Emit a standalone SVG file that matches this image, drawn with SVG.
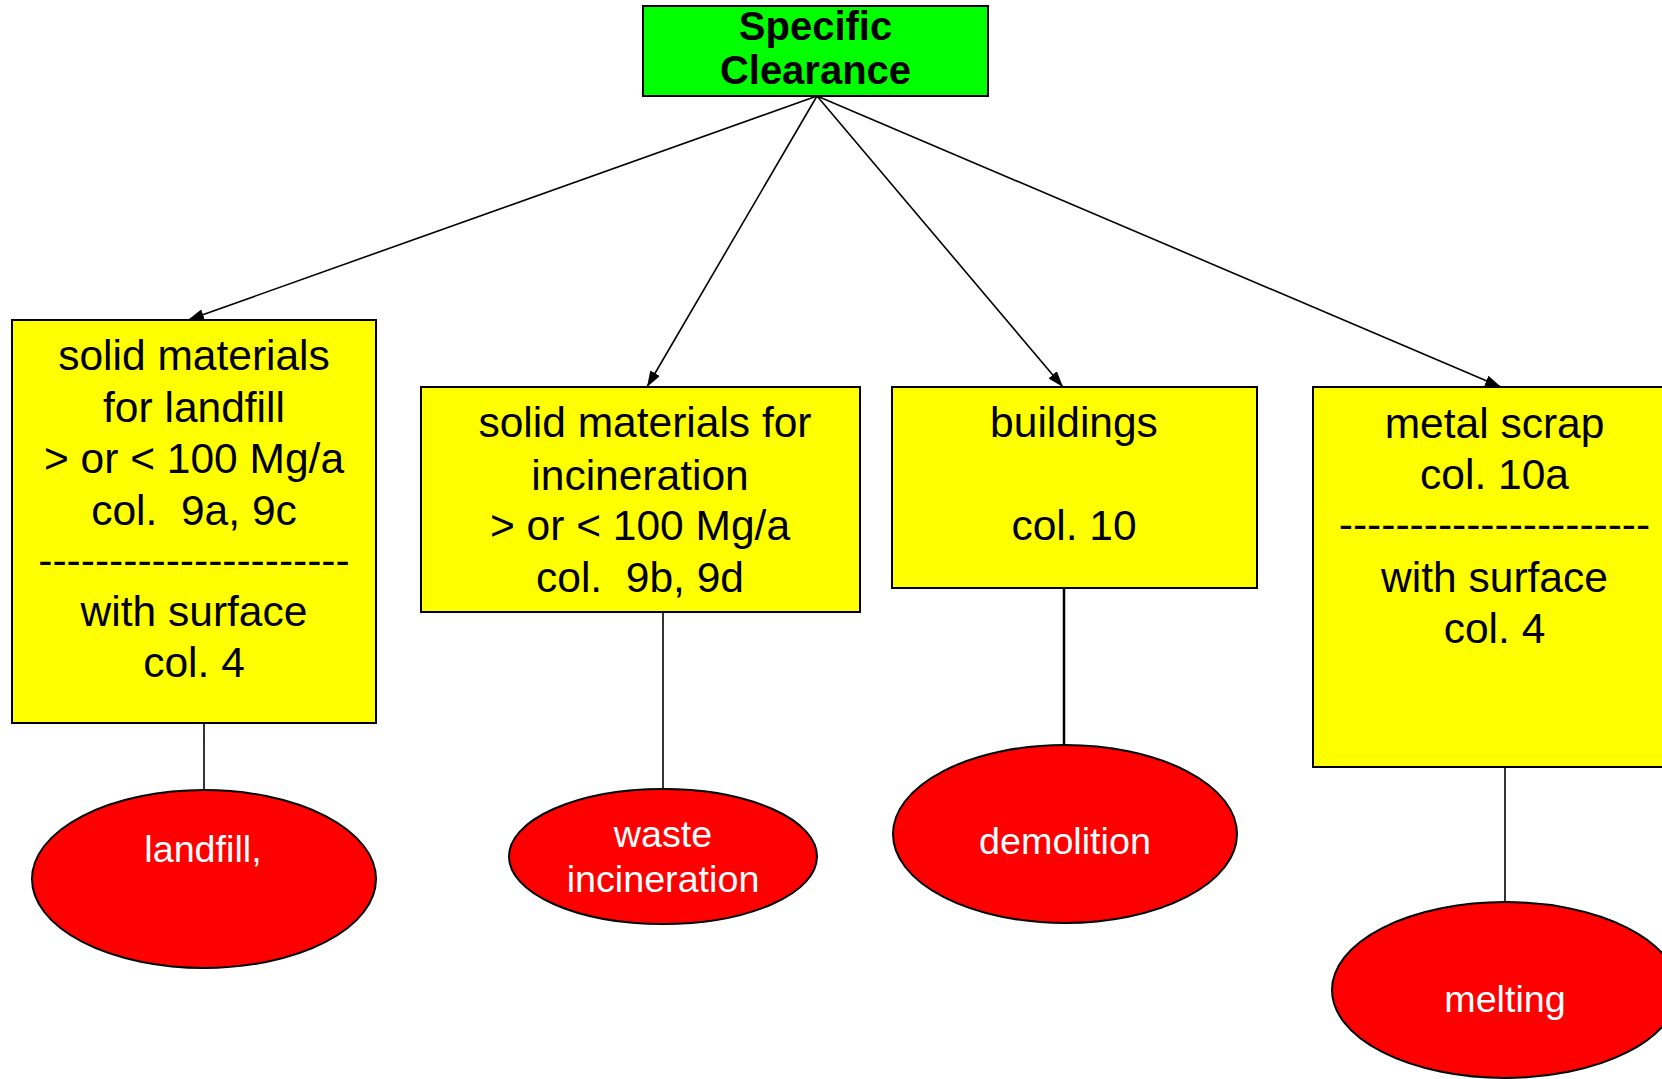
<svg xmlns="http://www.w3.org/2000/svg" width="1662" height="1079" viewBox="0 0 1662 1079">
  <defs>
    <marker id="arrow" viewBox="0 0 16 11" refX="16" refY="5.5" markerWidth="16" markerHeight="11" markerUnits="userSpaceOnUse" orient="auto">
      <path d="M0,0 L16,5.5 L0,11 z" fill="#000"/>
    </marker>
  </defs>
  <style>
    .box { fill: #ffff00; stroke: #000; stroke-width: 2; }
    .top { fill: #00ff00; stroke: #000; stroke-width: 2; }
    .oval { fill: #ff0000; stroke: #000; stroke-width: 2; }
    .t { font-family: "Liberation Sans", Arial, sans-serif; font-size: 42.5px; fill: #000; text-anchor: middle; }
    .tb { font-family: "Liberation Sans", Arial, sans-serif; font-size: 40px; font-weight: bold; fill: #000; text-anchor: middle; }
    .tw { font-family: "Liberation Sans", Arial, sans-serif; font-size: 37.7px; fill: #fff; text-anchor: middle; }
    .link { stroke: #000; stroke-width: 1.6; fill: none; }
  </style>

  <!-- connectors -->
  <g id="connectors">
    <line class="link" x1="817" y1="96" x2="188" y2="320" marker-end="url(#arrow)"/>
    <line class="link" x1="817" y1="96" x2="647" y2="387" marker-end="url(#arrow)"/>
    <line class="link" x1="817" y1="96" x2="1063" y2="387" marker-end="url(#arrow)"/>
    <line class="link" x1="817" y1="96" x2="1501" y2="387" marker-end="url(#arrow)"/>
    <line class="link" x1="204" y1="723" x2="204" y2="790"/>
    <line class="link" x1="663" y1="612" x2="663" y2="789"/>
    <line class="link" x1="1064" y1="588" x2="1064" y2="745" style="stroke-width:2.5"/>
    <line class="link" x1="1505" y1="767" x2="1505" y2="902"/>
  </g>

  <!-- root -->
  <g id="specific-clearance">
    <rect class="top" x="643" y="6" width="345" height="90"/>
    <text class="tb" x="815.5" y="40">Specific</text>
    <text class="tb" x="815.5" y="84">Clearance</text>
  </g>

  <!-- categories -->
  <g id="landfill-materials">
    <rect class="box" x="12" y="320" width="364" height="403"/>
    <text class="t" x="194" y="370">solid materials</text>
    <text class="t" x="194" y="422">for landfill</text>
    <text class="t" x="194" y="473">&gt; or &lt; 100 Mg/a</text>
    <text class="t" x="194" y="525" xml:space="preserve">col.  9a, 9c</text>
    <text class="t" x="194" y="575">----------------------</text>
    <text class="t" x="194" y="626">with surface</text>
    <text class="t" x="194" y="677">col. 4</text>
  </g>

  <g id="incineration-materials">
    <rect class="box" x="421" y="387" width="439" height="225"/>
    <text class="t" x="645" y="437">solid materials for</text>
    <text class="t" x="640" y="490">incineration</text>
    <text class="t" x="640" y="540">&gt; or &lt; 100 Mg/a</text>
    <text class="t" x="640" y="592" xml:space="preserve">col.  9b, 9d</text>
  </g>

  <g id="buildings">
    <rect class="box" x="892" y="387" width="365" height="201"/>
    <text class="t" x="1074" y="437">buildings</text>
    <text class="t" x="1074" y="540">col. 10</text>
  </g>

  <g id="metal-scrap">
    <rect class="box" x="1313" y="387" width="364" height="380"/>
    <text class="t" x="1494.5" y="438">metal scrap</text>
    <text class="t" x="1494.5" y="489">col. 10a</text>
    <text class="t" x="1494.5" y="539">----------------------</text>
    <text class="t" x="1494.5" y="592">with surface</text>
    <text class="t" x="1494.5" y="643">col. 4</text>
  </g>

  <!-- routes -->
  <g id="landfill">
    <ellipse class="oval" cx="204" cy="879" rx="172" ry="89"/>
    <text class="tw" x="203" y="862">landfill,</text>
  </g>

  <g id="waste-incineration">
    <ellipse class="oval" cx="663" cy="856.5" rx="154" ry="67.5"/>
    <text class="tw" x="663" y="847">waste</text>
    <text class="tw" x="663" y="892">incineration</text>
  </g>

  <g id="demolition">
    <ellipse class="oval" cx="1065" cy="834" rx="172" ry="89"/>
    <text class="tw" x="1065" y="854">demolition</text>
  </g>

  <g id="melting">
    <ellipse class="oval" cx="1505" cy="990" rx="173" ry="88"/>
    <text class="tw" x="1505" y="1012">melting</text>
  </g>
</svg>
